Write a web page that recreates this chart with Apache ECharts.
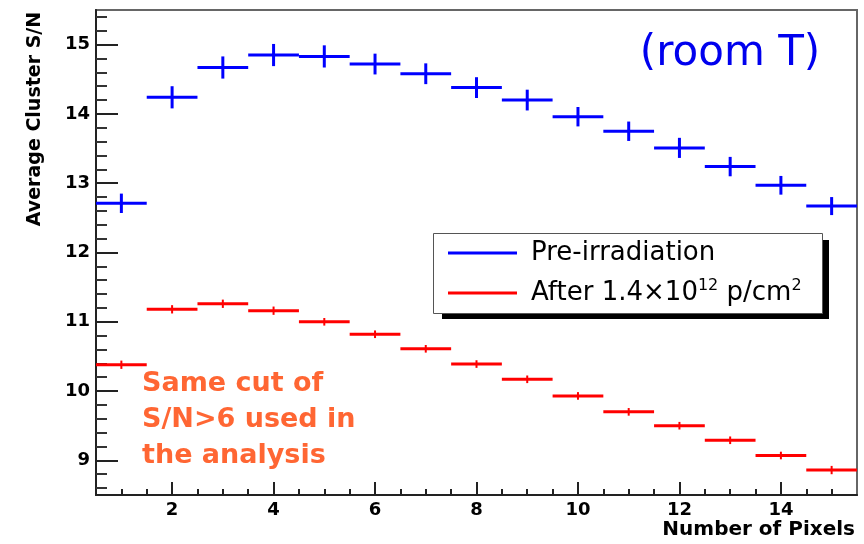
<!DOCTYPE html>
<html>
<head>
<meta charset="utf-8">
<script src="https://cdn.jsdelivr.net/npm/echarts@6/dist/echarts.min.js"></script>
<style>html,body{margin:0;padding:0;background:#fff}#c{width:864px;height:544px}</style>
</head>
<body>
<div id="c"></div>
<script>
// ---- data ----
const bins = [1, 2, 3, 4, 5, 6, 7, 8, 9, 10, 11, 12, 13, 14, 15];
const preValues = [12.71, 14.24, 14.67, 14.85, 14.83, 14.72, 14.58, 14.38, 14.20, 13.96, 13.75, 13.51, 13.24, 12.97, 12.67];
const preErrors = [0.14, 0.16, 0.16, 0.16, 0.16, 0.15, 0.15, 0.15, 0.15, 0.14, 0.14, 0.145, 0.14, 0.135, 0.13];
const postValues = [10.38, 11.18, 11.26, 11.16, 11.00, 10.82, 10.61, 10.39, 10.17, 9.93, 9.70, 9.50, 9.29, 9.07, 8.86];
const postErrors = [0.06, 0.06, 0.06, 0.06, 0.055, 0.055, 0.055, 0.055, 0.055, 0.055, 0.055, 0.055, 0.055, 0.055, 0.06];
const binWidth = 1;
const seriesNames = ['Pre-irradiation', 'After 1.4×10¹² p/cm²'];
const xMajorTicks = [2, 4, 6, 8, 10, 12, 14];
const xMinorTicks = [1, 1.5, 2.5, 3, 3.5, 4.5, 5, 5.5, 6.5, 7, 7.5, 8.5, 9, 9.5, 10.5, 11, 11.5, 12.5, 13, 13.5, 14.5, 15];
const yMajorTicks = [9, 10, 11, 12, 13, 14, 15];
const yMinorTicks = [8.6, 8.8, 9.2, 9.4, 9.6, 9.8, 10.2, 10.4, 10.6, 10.8, 11.2, 11.4, 11.6, 11.8, 12.2, 12.4, 12.6, 12.8, 13.2, 13.4, 13.6, 13.8, 14.2, 14.4, 14.6, 14.8, 15.2, 15.4];
const xRange = [0.5, 15.5];
const yRange = [8.5, 15.5];

const FONT = 'DejaVu Sans';

function makeData(vals, errs) {
  return bins.map((b, i) => [b, vals[i], errs[i]]);
}
function crossRenderer(color, hWidth, vWidth) {
  return function (params, api) {
    const x = api.value(0), y = api.value(1), e = api.value(2);
    const l = api.coord([x - binWidth / 2, y]);
    const r = api.coord([x + binWidth / 2, y]);
    const t = api.coord([x, y + e]);
    const b = api.coord([x, y - e]);
    return {
      type: 'group',
      children: [
        { type: 'line', shape: { x1: l[0], y1: l[1], x2: r[0], y2: r[1] }, style: { stroke: color, lineWidth: hWidth } },
        { type: 'line', shape: { x1: t[0], y1: t[1], x2: b[0], y2: b[1] }, style: { stroke: color, lineWidth: vWidth } }
      ]
    };
  };
}

const chart = echarts.init(document.getElementById('c'), null, { renderer: 'canvas' });
const axisLabelStyle = { fontFamily: FONT, fontWeight: 'bold', fontSize: 18, color: '#000' };
chart.setOption({
  animation: false,
  backgroundColor: '#fff',
  grid: { left: 96, right: 7, top: 10, bottom: 49, show: true, borderColor: '#666', borderWidth: 2, backgroundColor: 'transparent' },
  xAxis: [
    {
      type: 'value', min: xRange[0], max: xRange[1],
      axisLine: { show: true, onZero: false, lineStyle: { color: '#222', width: 2 } },
      axisTick: { show: true, inside: true, length: 13, customValues: xMajorTicks, lineStyle: { color: '#222', width: 2 } },
      axisLabel: { show: true, margin: 6, customValues: xMajorTicks, ...axisLabelStyle },
      splitLine: { show: false }
    },
    {
      type: 'value', min: xRange[0], max: xRange[1], position: 'bottom',
      axisLine: { show: false },
      axisTick: { show: true, inside: true, length: 6, customValues: xMinorTicks, lineStyle: { color: '#222', width: 2 } },
      axisLabel: { show: false },
      splitLine: { show: false }
    }
  ],
  yAxis: [
    {
      type: 'value', min: yRange[0], max: yRange[1],
      axisLine: { show: true, onZero: false, lineStyle: { color: '#222', width: 2 } },
      axisTick: { show: true, inside: true, length: 22, customValues: yMajorTicks, lineStyle: { color: '#222', width: 2 } },
      axisLabel: { show: true, margin: 6, customValues: yMajorTicks, ...axisLabelStyle },
      splitLine: { show: false }
    },
    {
      type: 'value', min: yRange[0], max: yRange[1], position: 'left',
      axisLine: { show: false },
      axisTick: { show: true, inside: true, length: 11, customValues: yMinorTicks, lineStyle: { color: '#333', width: 2 } },
      axisLabel: { show: false },
      splitLine: { show: false }
    }
  ],
  legend: {
    orient: 'vertical', left: 433, top: 233, z: 20,
    padding: [5, 19, 5, 15],
    itemWidth: 69, itemHeight: 3, itemGap: 10, icon: 'rect',
    selectedMode: false,
    backgroundColor: 'transparent', borderWidth: 0,
    data: seriesNames,
    textStyle: {
      fontFamily: FONT, fontSize: 26, color: '#000', lineHeight: 30, padding: [0, 0, 0, 9],
      rich: { sup: { fontFamily: FONT, fontSize: 16, lineHeight: 16, verticalAlign: 'top', color: '#000' } }
    },
    formatter: function (name) {
      if (name === seriesNames[1]) return 'After 1.4×10{sup|12} p/cm{sup|2}';
      return name;
    }
  },
  series: [
    {
      name: seriesNames[0], type: 'custom', xAxisIndex: 0, yAxisIndex: 0, clip: true,
      itemStyle: { color: '#0000ff' },
      encode: { x: 0, y: 1 },
      renderItem: crossRenderer('#0000ff', 3, 3),
      data: makeData(preValues, preErrors)
    },
    {
      name: seriesNames[1], type: 'custom', xAxisIndex: 0, yAxisIndex: 0, clip: true,
      itemStyle: { color: '#ff0000' },
      encode: { x: 0, y: 1 },
      renderItem: crossRenderer('#ff0000', 3, 2),
      data: makeData(postValues, postErrors)
    }
  ],
  graphic: [
    {
      type: 'rect', z: 5, shape: { x: 442, y: 240, width: 387, height: 79 },
      style: { fill: '#000' }
    },
    {
      type: 'rect', z: 6, shape: { x: 433.5, y: 233.5, width: 389, height: 80 },
      style: { fill: '#fff', stroke: '#555', lineWidth: 1 }
    },
    {
      type: 'text', x: 35, y: 119, rotation: Math.PI / 2,
      style: { text: 'Average Cluster S/N', fontFamily: FONT, fontWeight: 'bold', fontSize: 19, fill: '#000', align: 'center', verticalAlign: 'middle' }
    },
    {
      type: 'text', x: 855, y: 530,
      style: { text: 'Number of Pixels', fontFamily: FONT, fontWeight: 'bold', fontSize: 20, fill: '#000', align: 'right', verticalAlign: 'middle' }
    },
    {
      type: 'text', x: 730, y: 54,
      style: { text: '(room T)', fontFamily: FONT, fontSize: 42, fill: '#0000ee', align: 'center', verticalAlign: 'middle' }
    },
    {
      type: 'text', x: 142, y: 420,
      style: { text: 'Same cut of\nS/N>6 used in\nthe analysis', fontFamily: FONT, fontWeight: 'bold', fontSize: 27, lineHeight: 36, fill: '#ff6633', align: 'left', verticalAlign: 'middle' }
    }
  ]
});
</script>
</body>
</html>
